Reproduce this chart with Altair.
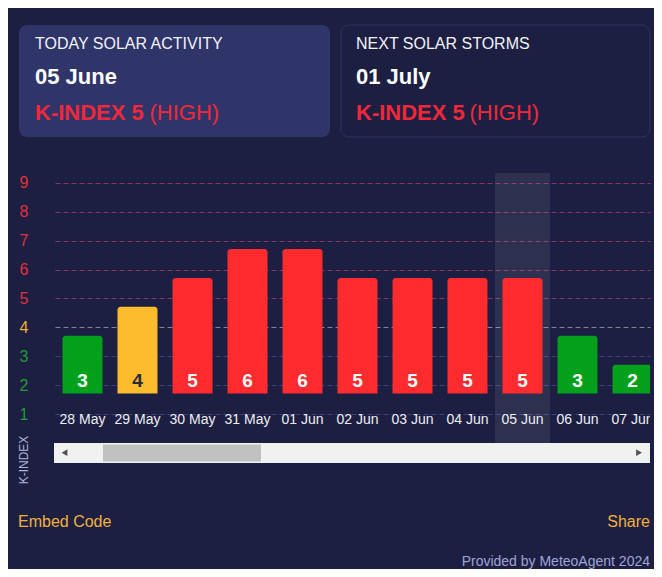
import altair as alt
import pandas as pd

# ---------------- data ----------------
dates = ["28 May", "29 May", "30 May", "31 May", "01 Jun", "02 Jun",
         "03 Jun", "04 Jun", "05 Jun", "06 Jun", "07 Jun"]
kp_values = [3, 4, 5, 6, 6, 5, 5, 5, 5, 3, 2]
y_ticks = [1, 2, 3, 4, 5, 6, 7, 8, 9]
today = "05 Jun"

card_titles = ["TODAY SOLAR ACTIVITY", "NEXT SOLAR STORMS"]
card_dates = ["05 June", "01 July"]
card_kp = [5, 5]
card_levels = ["HIGH", "HIGH"]

level_names = ["low", "moderate", "high"]
level_colors = ["#02a01b", "#fcbc2c", "#ff2b2e"]

# ---------------- style ----------------
FONT = "Liberation Sans"
BG = "#1d1f42"
W, H = 595, 270

levels = ["low" if v <= 3 else ("moderate" if v == 4 else "high") for v in kp_values]
df = pd.DataFrame({"date": dates, "kp": kp_values, "level": levels})
ticks_df = pd.DataFrame({"k": y_ticks})
one = pd.DataFrame({"a": [0]})

xscale = alt.Scale(domain=dates, range=[0, 605], paddingInner=0, paddingOuter=0)
X = alt.X("date:N", scale=xscale, axis=None)

# y axis + grid (value scale)
axis_layer = alt.Chart(ticks_df).mark_point(opacity=0).encode(
    y=alt.Y(
        "k:Q",
        scale=alt.Scale(domain=[0, 9.34], nice=False, zero=False),
        axis=alt.Axis(
            values=y_ticks, grid=True, gridDash=[5, 3], gridWidth=1,
            gridColor=alt.expr("datum.value >= 5 ? '#873462' : (datum.value == 4 ? '#85858f' : '#3c4378')"),
            domain=False, ticks=False,
            labelColor=alt.expr("datum.value >= 5 ? '#e0303c' : (datum.value == 4 ? '#eab132' : '#1f9c33')"),
            labelFont=FONT, labelFontSize=16, labelPadding=27, title=None,
        ),
    )
)

highlight = alt.Chart(df[df["date"] == today]).mark_rect(color="#ffffff", opacity=0.08).encode(
    x=X, y=alt.value(0), y2=alt.value(H)
)

bars = alt.Chart(df).mark_bar(width=40, cornerRadiusTopLeft=3, cornerRadiusTopRight=3, clip=True).encode(
    x=X,
    y=alt.Y("kp:Q", scale=alt.Scale(domain=[-0.71, 8.63], nice=False, zero=False), axis=None),
    y2=alt.datum(1),
    color=alt.Color("level:N", scale=alt.Scale(domain=level_names, range=level_colors), legend=None),
)

value_labels = alt.Chart(df).mark_text(
    font=FONT, fontSize=19, fontWeight="bold", baseline="alphabetic", clip=True
).encode(
    x=X, y=alt.value(213.7), text="kp:Q",
    color=alt.condition("datum.kp == 4", alt.value("#2b2a3a"), alt.value("#ffffff")),
)

x_labels = alt.Chart(df).mark_text(
    font=FONT, fontSize=14, color="#eeeef4", baseline="alphabetic", clip=True
).encode(x=X, y=alt.value(251), text="date:N")


def rect(x, x2, y, y2, **kw):
    return alt.Chart(one).mark_rect(**kw).encode(
        x=alt.value(x), x2=alt.value(x2), y=alt.value(y), y2=alt.value(y2)
    )


def txt(s, x, y, size, color, weight="normal", align="left", angle=0, baseline="alphabetic"):
    return alt.Chart(one).mark_text(
        font=FONT, fontSize=size, color=color, fontWeight=weight,
        align=align, baseline=baseline, angle=angle
    ).encode(x=alt.value(x), y=alt.value(y), text=alt.value(s))


RED = "#f0283a"
deco = [
    rect(-36, 275, -148, -36, cornerRadius=8, fill="#2f3469"),
    rect(286, 595, -148, -36, cornerRadius=8, fill=BG, stroke="#2f3366", strokeWidth=1),
]
for i, (cx, hx) in enumerate([(-20, 94.5), (301, 414.5)]):
    deco += [
        txt(card_titles[i], cx, -124.3, 16, "#f2f2fa"),
        txt(card_dates[i], cx, -88.7, 22, "#ffffff", weight="bold"),
        txt(f"K-INDEX {card_kp[i]}", cx, -53, 22, RED, weight="bold"),
        txt(f"({card_levels[i]})", hx, -53, 22, RED),
    ]

# scrollbar
deco += [
    rect(-1, 595, 270, 290, fill="#f1f1f1"),
    rect(48, 206, 271.5, 288.5, fill="#c1c1c1"),
    alt.Chart(one).mark_point(shape="triangle-left", filled=True, size=45, color="#505050", opacity=1).encode(
        x=alt.value(9.5), y=alt.value(279.7)),
    alt.Chart(one).mark_point(shape="triangle-right", filled=True, size=45, color="#505050", opacity=1).encode(
        x=alt.value(584), y=alt.value(279.7)),
]

deco += [
    txt("K-INDEX", -31, 287, 12, "#aeb1d9", align="center", angle=270, baseline="middle"),
    txt("Embed Code", -37, 354.3, 16, "#f2b03e"),
    txt("Share", 595, 354.3, 16, "#f2b03e", align="right"),
    txt("Provided by MeteoAgent 2024", 595, 393, 14, "#9fa3d6", align="right"),
]

chart = alt.layer(
    axis_layer, highlight, bars, value_labels, x_labels, *deco
).resolve_scale(y="independent").properties(
    width=W, height=H,
    autosize=alt.AutoSizeParams(type="none"),
    padding={"left": 47, "top": 165, "right": 4, "bottom": 126},
    background=BG,
).configure_view(stroke=None)

chart.save("out.html", embed_options={"renderer": "svg", "actions": False})
